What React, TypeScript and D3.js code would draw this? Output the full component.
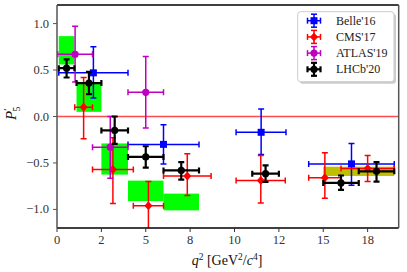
import React from "react";
import * as d3 from "d3";

// rows: [binLow, binHigh, xMarker, value, errUp, errDown]
const belle16 = [
  [0.1, 4.0, 2.05, 0.47, 0.28, 0.27],
  [4.0, 8.0, 6.0, -0.3, 0.21, 0.21],
  [10.09, 12.9, 11.5, -0.17, 0.25, 0.24],
  [14.18, 19.0, 16.59, -0.51, 0.22, 0.23],
];
const cms17 = [
  [1.0, 2.0, 1.5, 0.1, 0.32, 0.34],
  [2.0, 4.3, 3.15, -0.57, 0.34, 0.365],
  [4.3, 6.0, 5.15, -0.96, 0.26, 0.3],
  [6.0, 8.68, 7.34, -0.64, 0.24, 0.21],
  [10.09, 12.86, 11.48, -0.69, 0.27, 0.24],
  [14.18, 16.0, 15.09, -0.66, 0.27, 0.22],
  [16.0, 19.0, 17.5, -0.56, 0.14, 0.14],
];
const atlas19 = [
  [0.04, 2.0, 1.02, 0.67, 0.3, 0.3],
  [2.0, 4.0, 3.0, -0.33, 0.33, 0.335],
  [4.0, 6.0, 5.0, 0.26, 0.385, 0.385],
];
const lhcb20 = [
  [0.1, 0.98, 0.54, 0.52, 0.095, 0.1],
  [1.1, 2.5, 1.8, 0.36, 0.12, 0.12],
  [2.5, 4.0, 3.25, -0.15, 0.15, 0.145],
  [4.0, 6.0, 5.0, -0.435, 0.115, 0.115],
  [6.0, 8.0, 7.0, -0.58, 0.09, 0.1],
  [11.0, 12.5, 11.75, -0.615, 0.09, 0.09],
  [15.0, 17.0, 16.0, -0.715, 0.08, 0.075],
  [17.0, 19.0, 18.0, -0.59, 0.1, 0.11],
];
// SM prediction boxes: [binLow, binHigh, yLow, yHigh]
const smBoxes = [
  [0.1, 0.98, 0.56, 0.865],
  [1.1, 2.5, 0.05, 0.36],
  [2.5, 4.0, -0.625, -0.29],
  [4.0, 6.0, -0.91, -0.69],
  [6.0, 8.0, -1.01, -0.83],
];
const smHighBox = [[15.0, 19.0, -0.64, -0.54]];

const xTicks = [0, 2.5, 5, 7.5, 10, 12.5, 15, 17.5];
const xTickLabels = ["0", "2", "5", "8", "10", "12", "15", "18"];
const yTicks = [1.0, 0.5, 0.0, -0.5, -1.0];

const series = [
  { name: "Belle'16", data: belle16, color: "#0000ff", marker: "square", lw: 1.5 },
  { name: "CMS'17", data: cms17, color: "#ff0000", marker: "diamond", lw: 1.5 },
  { name: "ATLAS'19", data: atlas19, color: "#bf00bf", marker: "circle", lw: 1.5 },
  { name: "LHCb'20", data: lhcb20, color: "#000000", marker: "circle", lw: 2.2 },
];

const W = 407, H = 272;
const left = 57, right = 398.7, top = 5, bottom = 228;
const font = "'Liberation Serif', 'DejaVu Serif', serif";

const x = d3.scaleLinear().domain([0, 19.25]).range([left, right]);
const y = d3.scaleLinear().domain([-1.2, 1.2]).range([bottom, top]);

function Marker({ cx, cy, type, color }) {
  if (type === "square") return <rect x={cx - 3.5} y={cy - 3.5} width={7} height={7} fill={color} />;
  if (type === "diamond")
    return <path d={`M${cx},${cy - 4.5}L${cx + 4},${cy}L${cx},${cy + 4.5}L${cx - 4},${cy}Z`} fill={color} />;
  return <circle cx={cx} cy={cy} r={3.6} fill={color} />;
}

function ErrBar({ x1, x2, y1, y2, cx, cy, color, lw, cap }) {
  return (
    <g stroke={color} strokeWidth={lw} fill="none">
      <line x1={x1} x2={x2} y1={cy} y2={cy} />
      <line x1={cx} x2={cx} y1={y1} y2={y2} />
      <line x1={x1} x2={x1} y1={cy - cap} y2={cy + cap} />
      <line x1={x2} x2={x2} y1={cy - cap} y2={cy + cap} />
      <line x1={cx - cap} x2={cx + cap} y1={y1} y2={y1} />
      <line x1={cx - cap} x2={cx + cap} y1={y2} y2={y2} />
    </g>
  );
}

export default function App() {
  return (
    <svg width={W} height={H} style={{ position: "absolute", left: 0, top: 0 }} fontFamily={font}>
      <defs>
        <clipPath id="plot">
          <rect x={left} y={top} width={right - left} height={bottom - top} />
        </clipPath>
      </defs>
      <rect width={W} height={H} fill="#fff" />
      <g clipPath="url(#plot)">
        {smBoxes.map((b, i) => (
          <rect key={i} x={x(b[0])} width={x(b[1]) - x(b[0])} y={y(b[3])} height={y(b[2]) - y(b[3])} fill="#00ff00" />
        ))}
        {smHighBox.map((b, i) => (
          <rect key={i} x={x(b[0])} width={x(b[1]) - x(b[0])} y={y(b[3])} height={y(b[2]) - y(b[3])} fill="#bfbf00" />
        ))}
        <line x1={left} x2={right} y1={y(0)} y2={y(0)} stroke="#ff0000" strokeOpacity={0.7} strokeWidth={1.5} />
        {series.map((s) => (
          <g key={s.name}>
            {s.data.map((d, i) => (
              <g key={i}>
                <ErrBar
                  x1={x(d[0])} x2={x(d[1])} cx={x(d[2])} cy={y(d[3])}
                  y1={y(d[3] + d[4])} y2={y(d[3] - d[5])}
                  color={s.color} lw={s.lw} cap={3}
                />
                <Marker cx={x(d[2])} cy={y(d[3])} type={s.marker} color={s.color} />
              </g>
            ))}
          </g>
        ))}
      </g>

      {/* spines */}
      <line x1={left} x2={right} y1={top} y2={top} stroke="#000" strokeWidth={1.5} />
      <line x1={left} x2={right} y1={bottom} y2={bottom} stroke="#000" strokeWidth={1.5} />
      <line x1={left} x2={left} y1={top} y2={bottom} stroke="#555" strokeWidth={1.5} />
      <line x1={right} x2={right} y1={top} y2={bottom} stroke="#555" strokeWidth={1.5} />

      {/* ticks */}
      {yTicks.map((t) => (
        <g key={t}>
          <line x1={left - 4} x2={left} y1={y(t)} y2={y(t)} stroke="#555" strokeWidth={1} />
          <text x={left - 8} y={y(t) + 4} textAnchor="end" fontSize={12.5} fill="#333">
            {d3.format(".1f")(t).replace("-", "\u2212")}
          </text>
        </g>
      ))}
      {xTicks.map((t, i) => (
        <g key={t}>
          <line x1={x(t)} x2={x(t)} y1={bottom} y2={bottom + 4} stroke="#333" strokeWidth={1} />
          <text x={x(t)} y={bottom + 16} textAnchor="middle" fontSize={12.5} fill="#333">
            {xTickLabels[i]}
          </text>
        </g>
      ))}

      {/* axis labels */}
      <text x={227} y={265} textAnchor="middle" fontSize={14} fill="#111">
        <tspan fontStyle="italic">q</tspan>
        <tspan dy={-5} fontSize={9.5}>2</tspan>
        <tspan dy={5}> [GeV</tspan>
        <tspan dy={-5} fontSize={9.5}>2</tspan>
        <tspan dy={5}>/</tspan>
        <tspan fontStyle="italic">c</tspan>
        <tspan dy={-5} fontSize={9.5}>4</tspan>
        <tspan dy={5}>]</tspan>
      </text>
      <text transform="translate(16,120) rotate(-90)" fontSize={15} fill="#111">
        <tspan fontStyle="italic">P</tspan>
        <tspan dy={-5} fontSize={11}>{"\u2032"}</tspan>
        <tspan dx={-3} dy={9} fontSize={10}>5</tspan>
      </text>

      {/* legend */}
      <rect x={299.7} y={13.7} width={96.3} height={70} rx={3} fill="#999" opacity={0.5} />
      <rect x={297.7} y={11.7} width={96.3} height={70} rx={3} fill="#fff" stroke="#ccc" strokeWidth={1} />
      {series.map((s, i) => {
        const cy = 20.7 + i * 16.2;
        return (
          <g key={s.name}>
            <ErrBar x1={307.5} x2={320.5} cx={314} cy={cy} y1={cy - 6.5} y2={cy + 6.5} color={s.color} lw={s.lw} cap={3} />
            <Marker cx={314} cy={cy} type={s.marker} color={s.color} />
            <text x={336} y={cy + 4} fontSize={12} fill="#222">{s.name}</text>
          </g>
        );
      })}
    </svg>
  );
}
